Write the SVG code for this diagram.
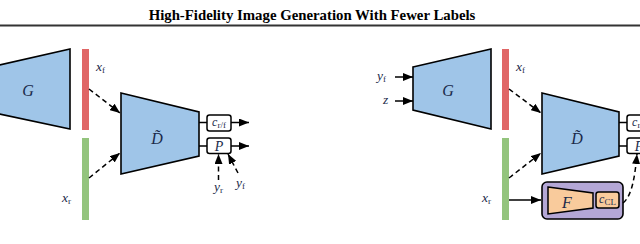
<svg xmlns="http://www.w3.org/2000/svg" width="640" height="244" viewBox="0 0 640 244">
<defs>
<marker id="ah" viewBox="0 0 10 8" refX="10" refY="4" markerWidth="10" markerHeight="8" markerUnits="userSpaceOnUse" orient="auto">
<path d="M0,0 L10,4 L0,8 Z" fill="#000"/>
</marker>
<style>
.net{fill:#9fc5e8;stroke:#000;stroke-width:1.6;stroke-linejoin:miter}
.box{fill:#fff;stroke:#000;stroke-width:1.5}
.ln{fill:none;stroke:#000;stroke-width:1.5}
.ar{fill:none;stroke:#000;stroke-width:1.5;marker-end:url(#ah)}
.da{fill:none;stroke:#000;stroke-width:1.5;stroke-dasharray:5 3.5;marker-end:url(#ah)}
.m{font-family:"Liberation Serif",serif;font-style:italic;fill:#1a2a4a}
.sub{font-style:normal;font-size:9px}
.title{font-family:"Liberation Serif",serif;font-weight:bold;font-size:14.8px;fill:#000}
</style>
</defs>
<rect width="640" height="244" fill="#fff"/>
<text class="title" x="312" y="19.5" text-anchor="middle">High-Fidelity Image Generation With Fewer Labels</text>
<rect x="0" y="24.5" width="640" height="2" fill="#333"/>

<g id="left-G"><path class="net" d="M-5,66 L70,49 L70,129 L-5,113 Z"/><text class="m" x="28" y="96" font-size="16" text-anchor="middle">G</text></g>
<g id="left-xf"><rect x="82" y="49" width="7" height="81" fill="#e06666"/><text class="m" x="96" y="71" font-size="13.5">x<tspan class="sub" dy="2">f</tspan></text></g>
<g id="left-xr"><rect x="82" y="138" width="7" height="82" fill="#93c47d"/><text class="m" x="62" y="202" font-size="13.5">x<tspan class="sub" dy="2">r</tspan></text></g>
<g id="left-D"><path class="net" d="M121,93 L199,112 L199,156 L121,174 Z"/><text class="m" x="157" y="144" font-size="16" text-anchor="middle">D̃</text></g>
<g id="left-crf"><rect class="box" x="207" y="115" width="24" height="16" rx="2.5"/><text class="m" x="219" y="126" font-size="12" text-anchor="middle">c<tspan class="sub" font-size="7" dy="2">r/f</tspan></text></g>
<g id="left-P"><rect class="box" x="207" y="138" width="24" height="15.5" rx="2.5"/><text class="m" x="219" y="150.5" font-size="14" text-anchor="middle">P</text></g>
<g id="left-yr"><text class="m" x="214" y="191" font-size="13.5">y<tspan class="sub" dy="2">r</tspan></text></g>
<g id="left-yf"><text class="m" x="236" y="187" font-size="13.5">y<tspan class="sub" dy="2">f</tspan></text></g>

<g id="right-yf"><text class="m" x="377" y="80" font-size="13.5">y<tspan class="sub" dy="2">f</tspan></text></g>
<g id="right-z"><text class="m" x="383" y="104" font-size="13.5">z</text></g>
<g id="right-G"><path class="net" d="M413,67 L491,49 L491,129 L413,110 Z"/><text class="m" x="448" y="96" font-size="16" text-anchor="middle">G</text></g>
<g id="right-xf"><rect x="502" y="49" width="7" height="81" fill="#e06666"/><text class="m" x="516" y="71" font-size="13.5">x<tspan class="sub" dy="2">f</tspan></text></g>
<g id="right-xr"><rect x="502" y="138" width="7" height="82" fill="#93c47d"/><text class="m" x="482" y="202" font-size="13.5">x<tspan class="sub" dy="2">r</tspan></text></g>
<g id="right-D"><path class="net" d="M542,93 L619,112 L619,156 L542,174 Z"/><text class="m" x="577" y="144" font-size="16" text-anchor="middle">D̃</text></g>
<g id="right-crf"><rect class="box" x="627" y="115" width="24" height="16" rx="2.5"/><text class="m" x="639" y="126" font-size="12" text-anchor="middle">c<tspan class="sub" font-size="7" dy="2">r/f</tspan></text></g>
<g id="right-P"><rect class="box" x="627" y="138" width="24" height="15.5" rx="2.5"/><text class="m" x="639" y="150.5" font-size="14" text-anchor="middle">P</text></g>
<g id="right-F"><rect x="542" y="182" width="81" height="37" rx="5" fill="#b4a7d6" stroke="#000" stroke-width="1.6"/><path d="M548,187 L593,193 L593,208 L548,214 Z" fill="#f9cb9c" stroke="#000" stroke-width="1.5"/><text class="m" x="567" y="208" font-size="16" text-anchor="middle">F</text></g>
<g id="right-ccl"><rect x="596" y="192" width="23" height="16" rx="2.5" fill="#f9cb9c" stroke="#000" stroke-width="1.5"/><text class="m" x="607.5" y="203" font-size="12" text-anchor="middle">c<tspan class="sub" font-size="8" dy="1.5">CL</tspan></text></g>

<g id="connectors">
<path class="da" d="M89,89 L120,113"/>
<path class="da" d="M89,178 L120,153"/>
<path class="ln" d="M199,122.5 L207,122.5"/>
<path class="ln" d="M199,146 L207,146"/>
<path class="ar" d="M231,122.5 L249,122.5"/>
<path class="ar" d="M231,146 L249,146"/>
<path class="da" d="M218.5,180 L218.5,154"/>
<path class="da" d="M238,173 L228,154"/>
<path class="ar" d="M395,77 L413,77"/>
<path class="ar" d="M395,101 L413,101"/>
<path class="da" d="M509,89 L541,113"/>
<path class="da" d="M509,178 L541,153"/>
<path class="ln" d="M619,122.5 L627,122.5"/>
<path class="ln" d="M619,146 L627,146"/>
<path class="ar" d="M509,200 L541,200"/>
<path class="da" d="M623,203 C632,196 635,176 637,154"/>
</g>
</svg>
